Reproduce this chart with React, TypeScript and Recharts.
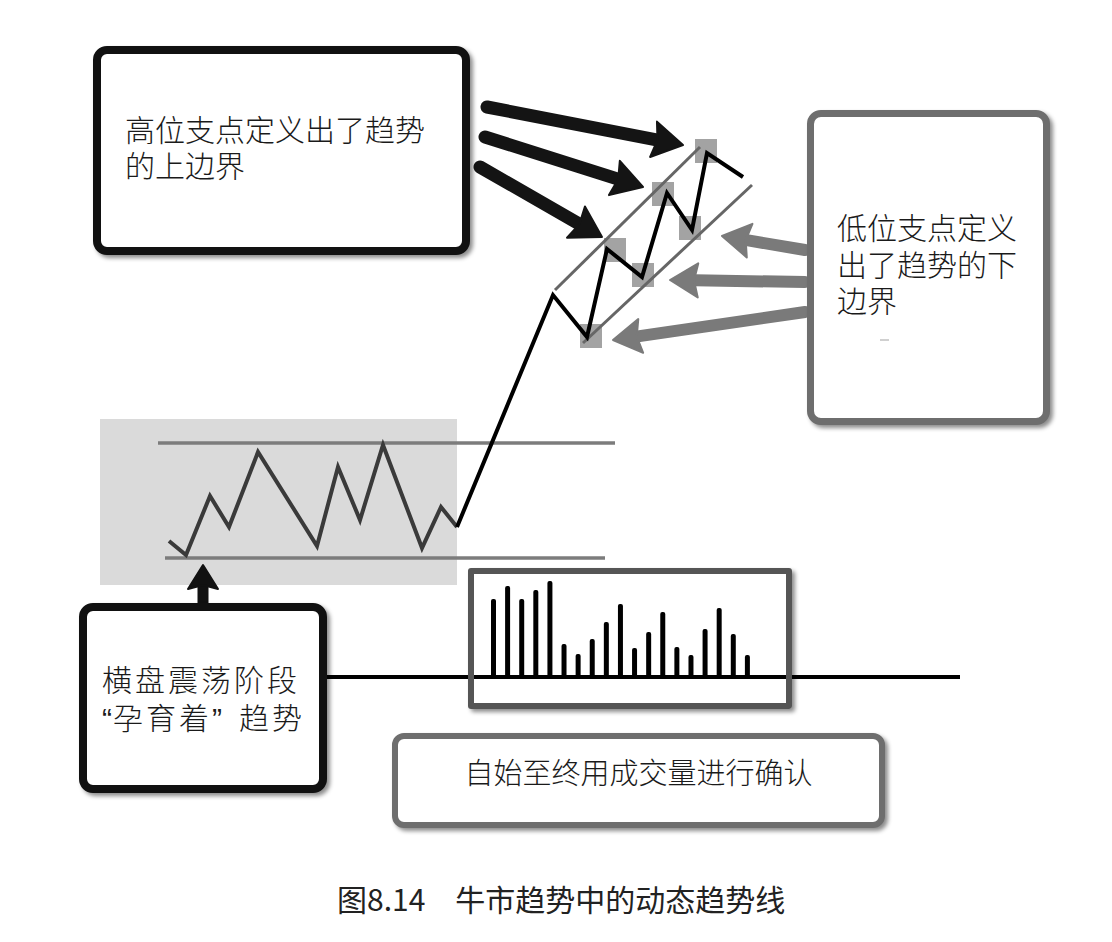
import React from "react";
import {
  ComposedChart,
  Line,
  XAxis,
  YAxis,
  ReferenceArea,
  ReferenceLine,
  BarChart,
  Bar,
} from "recharts";

// ---- data (time units on x, price units on y) ----
const consolidationT = [169, 186, 210, 229, 258, 317, 338, 360, 383, 422, 441, 457];
const consolidationPrice = [401, 387, 446, 415, 490, 396, 475, 422, 497, 394, 435, 415];
const trendT = [457, 553, 587, 607, 642, 667, 692, 707, 743];
const trendPrice = [415, 647, 605, 693, 665, 749, 712, 789, 765];
const pivotT = [591, 615, 643, 663, 690, 706];
const pivotPrice = [606, 692, 667, 748, 714, 791];
const volumeValues = [77, 90, 77, 86, 95, 32, 22, 37, 54, 72, 28, 44, 64, 29, 21, 47, 68, 42, 21];

const rangeTop = { from: 158, to: 615, level: 499 };
const rangeBottom = { from: 165, to: 605, level: 384 };
const zone = { t1: 100, t2: 457, p1: 357, p2: 523 };
const channelUpper = [[555, 652], [700, 795]];
const channelLower = [[583, 599], [752, 757]];
const volumeBase = { from: 325, to: 960, level: 265 };
const highArrows = [
  [[487, 835], [683, 797]],
  [[485, 805], [643, 755]],
  [[480, 775], [602, 705]],
];
const lowArrows = [
  [[805, 692], [722, 706]],
  [[805, 660], [670, 662]],
  [[805, 630], [613, 602]],
];
const upArrow = [[203, 336], [203, 377]];

const texts = {
  high: ["高位支点定义出了趋势", "的上边界"],
  low: ["低位支点定义", "出了趋势的下", "边界"],
  rangeLine1: "横盘震荡阶段",
  rangeQuoted: "孕育着",
  rangeTail: "趋势",
  volume: "自始至终用成交量进行确认",
  caption: "图8.14　牛市趋势中的动态趋势线",
};

const consolidationData = consolidationT.map((t, i) => ({ t, p: consolidationPrice[i] }));
const trendData = trendT.map((t, i) => ({ t, p: trendPrice[i] }));
const pivotData = pivotT.map((t, i) => ({ t, p: pivotPrice[i] }));
const volumeData = volumeValues.map((v, i) => ({ i: i + 1, v }));

const FONT = '"Noto Sans CJK SC", "Noto Sans", sans-serif';
const LATIN = '"Liberation Sans", "DejaVu Sans", sans-serif';
const CW = 1112;
const CH = 942;

function arrowShape(color: string, w: number, headLen: number, headW: number) {
  return (p: any) => {
    const { x1, y1, x2, y2 } = p;
    const dx = x2 - x1;
    const dy = y2 - y1;
    const len = Math.sqrt(dx * dx + dy * dy) || 1;
    const ux = dx / len;
    const uy = dy / len;
    const bx = x2 - ux * headLen;
    const by = y2 - uy * headLen;
    const nx = -uy;
    const ny = ux;
    const pts = `${x2},${y2} ${bx + nx * headW / 2},${by + ny * headW / 2} ${bx + ux * 4},${by + uy * 4} ${bx - nx * headW / 2},${by - ny * headW / 2}`;
    return (
      <g>
        <line x1={x1} y1={y1} x2={bx + ux * 3} y2={by + uy * 3} stroke={color} strokeWidth={w} strokeLinecap="round" />
        <polygon points={pts} fill={color} stroke={color} strokeWidth={2} strokeLinejoin="round" />
      </g>
    );
  };
}

const squareDot = (p: any) => (
  <rect key={`sq-${p.index}`} x={p.cx - 11} y={p.cy - 12} width={22} height={24} fill="#a3a3a3" />
);

const boxStyle = (left: number, top: number, width: number, height: number, border: string, bw: number, radius: number): React.CSSProperties => ({
  position: "absolute",
  left,
  top,
  width,
  height,
  boxSizing: "border-box",
  border: `${bw}px solid ${border}`,
  borderRadius: radius,
  background: "#fff",
  boxShadow: "3px 3px 4px rgba(0,0,0,0.45)",
});

const axes = [
  <XAxis key="x" type="number" dataKey="t" domain={[0, CW]} hide allowDataOverflow />,
  <YAxis key="y" type="number" dataKey="p" domain={[0, CH]} hide allowDataOverflow />,
];

export default function App() {
  return (
    <div style={{ position: "absolute", left: 0, top: 0, width: CW, height: CH, background: "#fff", fontFamily: FONT, overflow: "hidden" }}>
      {/* back layer: zone, levels, pivot squares */}
      <div style={{ position: "absolute", left: 0, top: 0 }}>
        <ComposedChart width={CW} height={CH} margin={{ top: 0, right: 0, bottom: 0, left: 0 }}>
          {axes}
          <ReferenceArea x1={zone.t1} x2={zone.t2} y1={zone.p1} y2={zone.p2} fill="#dadada" fillOpacity={1} stroke="none" ifOverflow="visible" />
          <Line data={pivotData} dataKey="p" type="linear" stroke="none" strokeWidth={0} dot={squareDot} activeDot={false} isAnimationActive={false} />
        </ComposedChart>
      </div>

      {/* front layer: lines and arrows */}
      <div style={{ position: "absolute", left: 0, top: 0 }}>
        <ComposedChart width={CW} height={CH} margin={{ top: 0, right: 0, bottom: 0, left: 0 }}>
          {axes}
          <ReferenceLine segment={[{ x: rangeTop.from, y: rangeTop.level }, { x: rangeTop.to, y: rangeTop.level }]} stroke="#7c7c7c" strokeWidth={3.5} ifOverflow="visible" />
          <ReferenceLine segment={[{ x: rangeBottom.from, y: rangeBottom.level }, { x: rangeBottom.to, y: rangeBottom.level }]} stroke="#7c7c7c" strokeWidth={3.5} ifOverflow="visible" />
          <ReferenceLine segment={[{ x: volumeBase.from, y: volumeBase.level }, { x: volumeBase.to, y: volumeBase.level }]} stroke="#000" strokeWidth={4} ifOverflow="visible" />
          <ReferenceLine segment={[{ x: channelUpper[0][0], y: channelUpper[0][1] }, { x: channelUpper[1][0], y: channelUpper[1][1] }]} stroke="#666" strokeWidth={3} ifOverflow="visible" />
          <ReferenceLine segment={[{ x: channelLower[0][0], y: channelLower[0][1] }, { x: channelLower[1][0], y: channelLower[1][1] }]} stroke="#666" strokeWidth={3} ifOverflow="visible" />
          <Line data={consolidationData} dataKey="p" type="linear" stroke="#3a3a3a" strokeWidth={4} dot={false} activeDot={false} strokeLinejoin="miter" isAnimationActive={false} />
          <Line data={trendData} dataKey="p" type="linear" stroke="#000" strokeWidth={4} dot={false} activeDot={false} strokeLinejoin="miter" isAnimationActive={false} />
          {highArrows.map((a, i) => (
            <ReferenceLine key={"h" + i} segment={[{ x: a[0][0], y: a[0][1] }, { x: a[1][0], y: a[1][1] }]} stroke="#111" ifOverflow="visible" shape={arrowShape("#141414", 13, 30, 36)} />
          ))}
          {lowArrows.map((a, i) => (
            <ReferenceLine key={"l" + i} segment={[{ x: a[0][0], y: a[0][1] }, { x: a[1][0], y: a[1][1] }]} stroke="#777" ifOverflow="visible" shape={arrowShape("#7a7a7a", 12, 28, 34)} />
          ))}
          <ReferenceLine segment={[{ x: upArrow[0][0], y: upArrow[0][1] }, { x: upArrow[1][0], y: upArrow[1][1] }]} stroke="#111" ifOverflow="visible" shape={arrowShape("#111", 11, 24, 30)} />
        </ComposedChart>
      </div>

      <div style={{ position: "absolute", left: 486, top: 576 }}>
        <BarChart width={268} height={100} data={volumeData} margin={{ top: 0, right: 0, bottom: 0, left: 0 }}>
          <XAxis dataKey="i" hide />
          <YAxis domain={[0, 100]} hide allowDataOverflow />
          <Bar dataKey="v" fill="#000" barSize={5} radius={[2, 2, 0, 0]} isAnimationActive={false} />
        </BarChart>
      </div>

      {/* volume frame */}
      <div style={{ ...boxStyle(468, 568, 324, 141, "#555", 6, 3), background: "transparent" }} />

      {/* high pivots box */}
      <div style={boxStyle(93, 46, 377, 209, "#111", 8, 14)}>
        <div style={{ position: "absolute", left: 24, top: 56, fontSize: 30, fontWeight: 300, lineHeight: "36px", color: "#1a1a1a", whiteSpace: "nowrap" }}>
          {texts.high.map((s, i) => <div key={i}>{s}</div>)}
        </div>
      </div>

      {/* low pivots box */}
      <div style={boxStyle(807, 110, 243, 315, "#6e6e6e", 7, 14)}>
        <div style={{ position: "absolute", left: 23, top: 91, fontSize: 30, fontWeight: 300, lineHeight: "36.5px", color: "#1a1a1a", whiteSpace: "nowrap" }}>
          {texts.low.map((s, i) => <div key={i}>{s}</div>)}
        </div>
        <div style={{ position: "absolute", left: 66, top: 222, width: 9, height: 2, background: "#d0d0d0" }} />
      </div>

      {/* range box */}
      <div style={boxStyle(79, 603, 248, 190, "#111", 8, 14)}>
        <div style={{ position: "absolute", left: 15, top: 48, fontSize: 30, fontWeight: 300, lineHeight: "38px", letterSpacing: 3, color: "#1a1a1a", whiteSpace: "nowrap" }}>
          <div>{texts.rangeLine1}</div>
          <div>
            <span style={{ fontFamily: LATIN, letterSpacing: 1 }}>“</span>
            {texts.rangeQuoted}
            <span style={{ fontFamily: LATIN, letterSpacing: 0, marginRight: 17 }}>”</span>
            {texts.rangeTail}
          </div>
        </div>
      </div>

      {/* volume confirmation box */}
      <div style={boxStyle(392, 733, 493, 95, "#6e6e6e", 6, 12)}>
        <div style={{ position: "absolute", left: 0, right: 0, top: 14, fontSize: 29, fontWeight: 300, lineHeight: "36px", textAlign: "center", color: "#1a1a1a", whiteSpace: "nowrap" }}>
          {texts.volume}
        </div>
      </div>

      {/* caption */}
      <div style={{ position: "absolute", left: 337, top: 880, fontSize: 30, lineHeight: "36px", fontWeight: 400, color: "#222", whiteSpace: "nowrap" }}>
        {texts.caption}
      </div>
    </div>
  );
}
